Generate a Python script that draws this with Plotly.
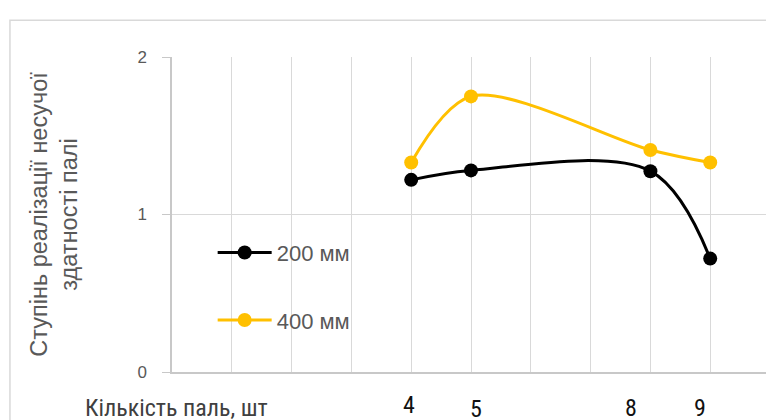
import plotly.graph_objects as go

piles = [4, 5, 8, 9]
s200 = [1.22, 1.28, 1.275, 0.72]
s400 = [1.33, 1.75, 1.41, 1.33]
series_names = ["200 мм", "400 мм"]
tick_labels = ["4", "5", "8", "9"]
x_title = "Кількість паль, шт"
y_title = "Ступінь реалізації несучої<br>здатності палі"

NARROW = "Liberation Sans Narrow, Roboto Condensed, Liberation Sans, sans-serif"
SANS = "Liberation Sans, Arial, sans-serif"

fig = go.Figure()
fig.add_trace(go.Scatter(x=piles, y=s200, name=series_names[0], mode="lines+markers",
                         line=dict(color="#000000", width=3, shape="spline", smoothing=1.0),
                         marker=dict(size=14, color="#000000"), legendgroup="a"))
fig.add_trace(go.Scatter(x=piles, y=s400, name=series_names[1], mode="lines+markers",
                         line=dict(color="#FFC000", width=3, shape="spline", smoothing=0.9),
                         marker=dict(size=14, color="#FFC000"), legendgroup="b"))

# label offsets (pixels) for the manually placed category labels
shifts = [(-2, -33), (5, -37), (-19, -36), (-10, -36)]
for xv, lab, (dx, dy) in zip(piles, tick_labels, shifts):
    fig.add_annotation(x=xv, y=0, xref="x", yref="y", text=lab, showarrow=False,
                       xshift=dx, yshift=dy, font=dict(size=24, color="#111111", family=NARROW))

fig.add_annotation(x=0.0067, y=0, xref="paper", yref="y", text=x_title,
                   showarrow=False, yshift=-36, xanchor="center",
                   font=dict(size=24, color="#404040", family=NARROW))

fig.add_shape(type="rect", xref="paper", yref="paper", x0=-0.271, x1=1.2, y0=-0.5, y1=1.117,
              line=dict(color="#d9d9d9", width=1.5), layer="below")

fig.update_layout(
    width=766, height=412,
    margin=dict(l=164, r=4, t=49, b=48),
    paper_bgcolor="white", plot_bgcolor="white",
    showlegend=True,
    legend=dict(x=0.068, y=0.271, xanchor="left", yanchor="middle", bgcolor="rgba(0,0,0,0)",
                font=dict(size=22, color="#595959", family=SANS),
                tracegroupgap=36, traceorder="grouped", itemwidth=54),
    xaxis=dict(range=[0, 10], dtick=1, tick0=0, showgrid=True, gridcolor="#d9d9d9", gridwidth=1,
               showticklabels=False, zeroline=False, showline=True, linecolor="#c8c8c8", linewidth=1.5),
    yaxis=dict(range=[0, 2], dtick=1, showgrid=True, gridcolor="#d9d9d9", gridwidth=1,
               zeroline=False, showline=True, linecolor="#c8c8c8", linewidth=1.5,
               ticks="outside", ticklen=8, tickcolor="#c8c8c8", ticklabelstandoff=12,
               tickfont=dict(size=17, color="#595959", family=SANS),
               title=dict(text=y_title, font=dict(size=23.5, color="#595959", family=SANS),
                          standoff=53)),
)

fig.write_html("out.html")
